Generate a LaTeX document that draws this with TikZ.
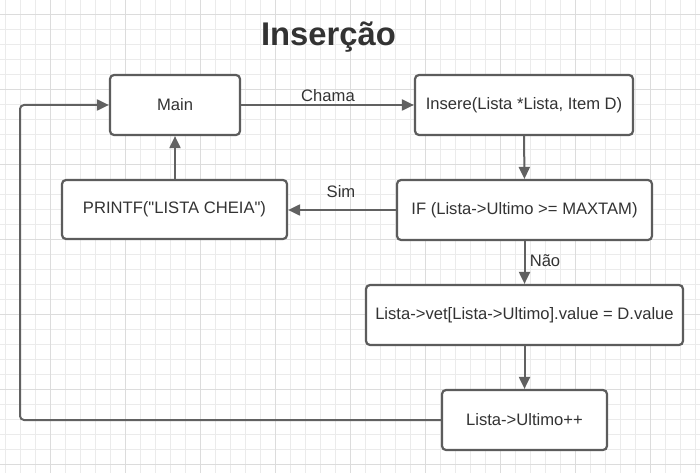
\documentclass[tikz,border=0pt]{standalone}
\usepackage{fontspec}
\setmainfont{Liberation Sans}
\usetikzlibrary{arrows.meta}
\definecolor{gthin}{HTML}{EBEBEB}
\definecolor{gthick}{HTML}{DCDCDC}
\definecolor{bord}{HTML}{5C5C5C}
\definecolor{txt}{HTML}{333333}
\definecolor{lnk}{HTML}{616161}
\tikzset{
  box/.style={draw=bord, line width=2.2pt, rounded corners=4pt, fill=white,
    text=txt, font=\fontsize{16.6}{19}\selectfont, inner sep=0pt, anchor=center},
  conn/.style={draw=lnk, line width=2pt, -{Triangle[length=12pt,width=11pt]}},
  lbl/.style={text=txt, font=\fontsize{16.6}{19}\selectfont, inner sep=0pt},
}
\begin{document}
\begin{tikzpicture}[x=1pt,y=-1pt]
\useasboundingbox (0,0) rectangle (700,473);
\fill[white] (0,0) rectangle (700,473);
% grid
\foreach \i in {0,...,46} {
  \pgfmathsetmacro{\gx}{5+15*\i}
  \draw[gthin, line width=1pt] (\gx,0) -- (\gx,473);
}
\foreach \i in {0,...,31} {
  \pgfmathsetmacro{\gy}{14.3+15*\i}
  \draw[gthin, line width=1pt] (0,\gy) -- (700,\gy);
}
\foreach \i in {0,...,8} {
  \pgfmathsetmacro{\gx}{50+75*\i}
  \draw[gthick, line width=1pt] (\gx,0) -- (\gx,473);
}
\foreach \i in {0,...,6} {
  \pgfmathsetmacro{\gy}{14.3+75*\i}
  \draw[gthick, line width=1pt] (0,\gy) -- (700,\gy);
}
% title
\node[text=txt, font=\bfseries\fontsize{32.8}{38}\selectfont, inner sep=0pt] (title) at (328.5,37.5) {Inserção};
% boxes
\node[box, minimum width=130pt, minimum height=60pt] (main) at (175,105) {Main};
\node[box, minimum width=218pt, minimum height=60pt] (ins) at (524,105) {Insere(Lista *Lista, Item D)};
\node[box, minimum width=255pt, minimum height=60pt] (if) at (524.5,210) {IF (Lista->Ultimo >= MAXTAM)};
\node[box, minimum width=225pt, minimum height=59pt] (pr) at (174.5,209.5) {PRINTF(\textquotedbl LISTA CHEIA\textquotedbl)};
\node[box, minimum width=317pt, minimum height=60pt] (vet) at (524.5,315) {Lista->vet[Lista->Ultimo].value = D.value};
\node[box, minimum width=165pt, minimum height=60pt] (ult) at (524.5,420) {Lista->Ultimo++};
% connectors
\draw[conn] (main.east) -- (ins.west);
\node[lbl] (chama) at (328,96) {Chama};
\draw[conn] (ins.south) -- (if.north);
\draw[conn] (if.west) -- (pr.east |- if.west);
\node[lbl] (sim) at (341,192) {Sim};
\draw[conn] (pr.north -| main.south) -- (main.south);
\draw[conn] (if.south) -- (vet.north);
\node[lbl] (nao) at (545,261) {Não};
\draw[conn] (vet.south) -- (ult.north);
\coordinate (lp) at (20,262);
\draw[conn, rounded corners=4pt] (ult.west) -| (lp) |- (main.west);
\end{tikzpicture}
\end{document}
